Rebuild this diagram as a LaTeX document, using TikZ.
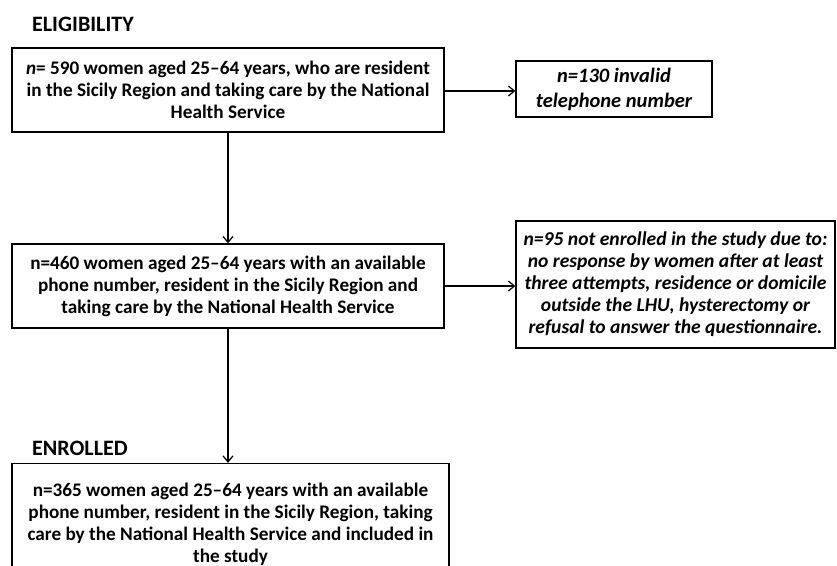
\documentclass[tikz,border=0pt]{standalone}
\usepackage{fontspec}
\setmainfont{Carlito}
\usetikzlibrary{arrows.meta}
\begin{document}
\begin{tikzpicture}[x=1pt,y=-1pt,
  box/.style={draw=black,line width=1.4pt,align=center,inner sep=0pt,
    font=\fontsize{19.2}{22}\selectfont\bfseries},
  side/.style={box,font=\fontsize{19.6}{22}\selectfont\bfseries\itshape},
  sidebig/.style={box,font=\fontsize{20.5}{25}\selectfont\bfseries\itshape},
  head/.style={anchor=base west,inner sep=0pt,font=\fontsize{22}{26}\selectfont\bfseries},
  arr/.style={line width=1.2pt,-{Straight Barb[length=6pt,width=10pt,line width=1.2pt]}}]
\useasboundingbox (0,0) rectangle (837,565);
\clip (0,0) rectangle (837,565);
\node[head] (h1) at (32,31.5) {ELIGIBILITY};
\node[head] (h2) at (32,455) {ENROLLED};
\node[box,minimum width=432pt,minimum height=84pt] (b1) at (228,90)
  {\textit{n}= 590 women aged 25–64 years, who are resident\\in the Sicily Region and taking care by the National\\Health Service};
\node[sidebig,minimum width=196pt,minimum height=56pt] (b2) at (614,89)
  {n=130 invalid\\telephone number};
\node[box,minimum width=432pt,minimum height=84pt] (b3) at (228,286)
  {n=460 women aged 25–64 years with an available\\phone number, resident in the Sicily Region and\\taking care by the National Health Service};
\node[side,minimum width=319pt,minimum height=127pt] (b4) at (675.5,284.5)
  {n=95 not enrolled in the study due to:\\no response by women after at least\\three attempts, residence or domicile\\outside the LHU, hysterectomy or\\refusal to answer the questionnaire.};
\node[box,minimum width=437pt,minimum height=121pt] (b5) at (230.5,524)
  {n=365 women aged 25–64 years with an available\\phone number, resident in the Sicily Region, taking\\care by the National Health Service and included in\\the study};
\coordinate (p2) at (b2.west |- 0,91);
\draw[arr] (b1.east |- p2) -- (p2);
\coordinate (p4) at (b4.west |- 0,286);
\draw[arr] (b3.east |- p4) -- (p4);
\draw[arr] (b1.south) -- (b3.north);
\draw[arr] (b3.south) -- (b5.north -| b3.south);
\end{tikzpicture}
\end{document}
